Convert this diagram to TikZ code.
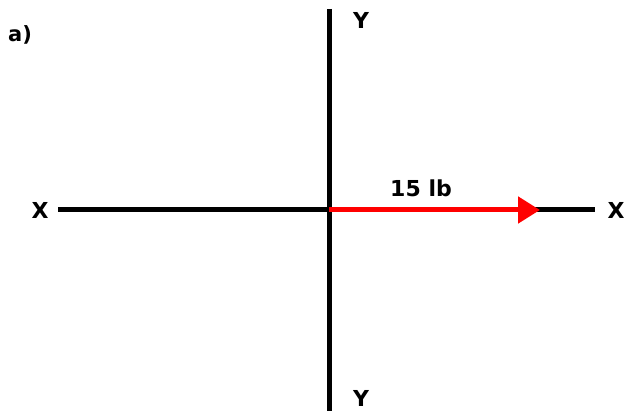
\documentclass[tikz,border=0pt]{standalone}
\usepackage{fontspec}
\setmainfont{DejaVu Sans}
\usetikzlibrary{arrows.meta}
\begin{document}
\begin{tikzpicture}[x=1pt,y=-1pt,
  axis/.style={line width=5pt,black},
  force/.style={line width=5pt,red,-{Triangle[length=22pt,width=26pt]}},
  lbl/.style={font=\fontsize{22}{22}\selectfont\bfseries,inner sep=0pt}]
\useasboundingbox (0,0) rectangle (626,411);
\coordinate (O) at (329,210);
\coordinate (xl) at (58,210);
\coordinate (xr) at (595,210);
\coordinate (yt) at (329,9);
\coordinate (yb) at (329,411);
\coordinate (tip) at (540,210);
\draw[axis] (xl) -- (xr);
\draw[axis] (yt) -- (yb);
\draw[force] (O) -- (tip);
\node[lbl] (XL) at (40,210) {X};
\node[lbl] (XR) at (616,210) {X};
\node[lbl] (YT) at (361,20) {Y};
\node[lbl] (YB) at (361,398) {Y};
\node[lbl] (F) at (421,188) {15 lb};
\node[lbl,font=\fontsize{21}{21}\selectfont\bfseries] (A) at (20,35) {a)};
\end{tikzpicture}
\end{document}
